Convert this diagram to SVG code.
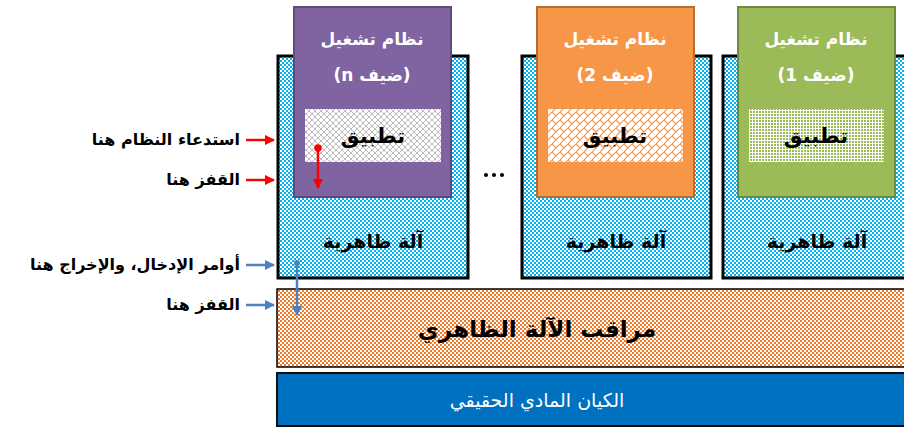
<svg xmlns="http://www.w3.org/2000/svg" width="904" height="428" viewBox="0 0 904 428">
  <style>
    text { font-family: "DejaVu Sans", sans-serif; font-weight: bold; text-anchor: middle; }
    .vm { fill: url(#vmDots); stroke: #000; stroke-width: 3; }
    .os-title { fill: #fff; font-size: 17px; }
    .guest { direction: rtl; unicode-bidi: embed; }
    .app-label { fill: #000; font-size: 21px; }
    .vm-label { fill: #000; font-size: 19px; }
    .side { fill: #000; font-size: 16px; text-anchor: end; }
    .red { stroke: #ff0000; stroke-width: 2.5; fill: none; }
    .blue { stroke: #4f81bd; stroke-width: 2.5; fill: none; }
  </style>
  <defs>
    <pattern id="vmDots" width="4" height="4" patternUnits="userSpaceOnUse">
      <rect width="4" height="4" fill="#fff"/>
      <rect x="0" y="0" width="2" height="2" fill="#00b0f0"/>
      <rect x="2" y="2" width="2" height="2" fill="#00b0f0"/>
    </pattern>
    <pattern id="hvDots" width="4" height="4" patternUnits="userSpaceOnUse">
      <rect width="4" height="4" fill="#fff"/>
      <rect x="0" y="0" width="2" height="2" fill="#f07a28"/>
      <rect x="2" y="2" width="2" height="2" fill="#f07a28"/>
    </pattern>
    <pattern id="grayHatch" width="6" height="6" patternUnits="userSpaceOnUse">
      <rect width="6" height="6" fill="#fff"/>
      <path d="M0,0 L6,6 M6,0 L0,6" stroke="#bdbdbd" stroke-width="1"/>
    </pattern>
    <pattern id="orangeBrick" width="8" height="8" patternUnits="userSpaceOnUse">
      <rect width="8" height="8" fill="#fff"/>
      <path d="M0,8 L8,0 M0,0 L4,4" stroke="#f79646" stroke-width="1.2"/>
    </pattern>
    <pattern id="greenDots" width="3" height="3" patternUnits="userSpaceOnUse">
      <rect width="3" height="3" fill="#fff"/>
      <rect x="0" y="0" width="2" height="2" fill="#9bbb59"/>
    </pattern>
    <marker id="arrRed" viewBox="0 0 10 10" refX="9" refY="5" markerWidth="4" markerHeight="4" orient="auto">
      <path d="M0,0 L10,5 L0,10 Z" fill="#ff0000"/>
    </marker>
    <marker id="arrBlue" viewBox="0 0 10 10" refX="9" refY="5" markerWidth="4" markerHeight="4" orient="auto">
      <path d="M0,0 L10,5 L0,10 Z" fill="#4f81bd"/>
    </marker>
    <marker id="dotRed" viewBox="0 0 10 10" refX="5" refY="5" markerWidth="3" markerHeight="3">
      <circle cx="5" cy="5" r="5" fill="#ff0000"/>
    </marker>
    <marker id="dotBlue" viewBox="0 0 10 10" refX="5" refY="5" markerWidth="2.4" markerHeight="2.4">
      <circle cx="5" cy="5" r="5" fill="#4f81bd"/>
    </marker>
  </defs>

  <!-- physical hardware -->
  <g id="hardware">
    <rect x="277" y="373" width="630" height="53" fill="#0070c0" stroke="#0d0d0d" stroke-width="2"/>
    <text x="537" y="407" fill="#fff" font-size="19px" style="font-weight:normal">الكيان المادي الحقيقي</text>
  </g>

  <!-- hypervisor -->
  <g id="hypervisor">
    <rect x="277" y="289" width="630" height="78" fill="url(#hvDots)" stroke="#000" stroke-width="1.5"/>
    <text x="537" y="337" fill="#000" font-size="23px">مراقب الآلة الظاهري</text>
  </g>

  <!-- virtual machine n -->
  <g id="vm-n">
    <rect class="vm" x="278" y="56" width="190" height="222"/>
    <text class="vm-label" x="373" y="248">آلة ظاهرية</text>
    <rect x="294" y="7" width="157" height="190" fill="#8064a2" stroke="#5f497a" stroke-width="2"/>
    <text class="os-title" x="372" y="45">نظام تشغيل</text>
    <text class="os-title guest" x="372" y="81">(ضيف n)</text>
    <rect x="305" y="109" width="136" height="53" fill="url(#grayHatch)"/>
    <text class="app-label" x="373" y="143">تطبيق</text>
  </g>

  <!-- virtual machine 2 -->
  <g id="vm-2">
    <rect class="vm" x="522" y="56" width="189" height="222"/>
    <text class="vm-label" x="616" y="248">آلة ظاهرية</text>
    <rect x="537" y="7" width="157" height="190" fill="#f79646" stroke="#b66d31" stroke-width="2"/>
    <text class="os-title" x="615" y="45">نظام تشغيل</text>
    <text class="os-title guest" x="615" y="81">(ضيف 2)</text>
    <rect x="548" y="109" width="135" height="53" fill="url(#orangeBrick)"/>
    <text class="app-label" x="615" y="143">تطبيق</text>
  </g>

  <!-- virtual machine 1 -->
  <g id="vm-1">
    <rect class="vm" x="723" y="56" width="190" height="222"/>
    <text class="vm-label" x="817" y="248">آلة ظاهرية</text>
    <rect x="738" y="7" width="157" height="190" fill="#9bbb59" stroke="#71893f" stroke-width="2"/>
    <text class="os-title" x="816" y="45">نظام تشغيل</text>
    <text class="os-title guest" x="816" y="81">(ضيف 1)</text>
    <rect x="749" y="109" width="135" height="53" fill="url(#greenDots)"/>
    <text class="app-label" x="816" y="143">تطبيق</text>
  </g>

  <!-- ellipsis between machines -->
  <g id="ellipsis" fill="#000">
    <circle cx="486" cy="175" r="2"/>
    <circle cx="494" cy="175" r="2"/>
    <circle cx="502" cy="175" r="2"/>
  </g>

  <!-- side annotations -->
  <g id="annotations">
    <text class="side" x="240" y="145">استدعاء النظام هنا</text>
    <text class="side" x="240" y="185">القفز هنا</text>
    <text class="side" x="240" y="270">أوامر الإدخال، والإخراج هنا</text>
    <text class="side" x="240" y="310">القفز هنا</text>
  </g>

  <!-- connectors -->
  <g id="connectors">
    <line class="red" x1="246" y1="140" x2="274" y2="140" marker-end="url(#arrRed)"/>
    <line class="red" x1="246" y1="180" x2="274" y2="180" marker-end="url(#arrRed)"/>
    <line class="blue" x1="246" y1="265" x2="274" y2="265" marker-end="url(#arrBlue)"/>
    <line class="blue" x1="246" y1="305" x2="274" y2="305" marker-end="url(#arrBlue)"/>
    <line class="red" x1="318" y1="148" x2="318" y2="188" marker-start="url(#dotRed)" marker-end="url(#arrRed)"/>
    <line class="blue" x1="297" y1="263" x2="297" y2="315" marker-start="url(#dotBlue)" marker-end="url(#arrBlue)"/>
  </g>
</svg>
